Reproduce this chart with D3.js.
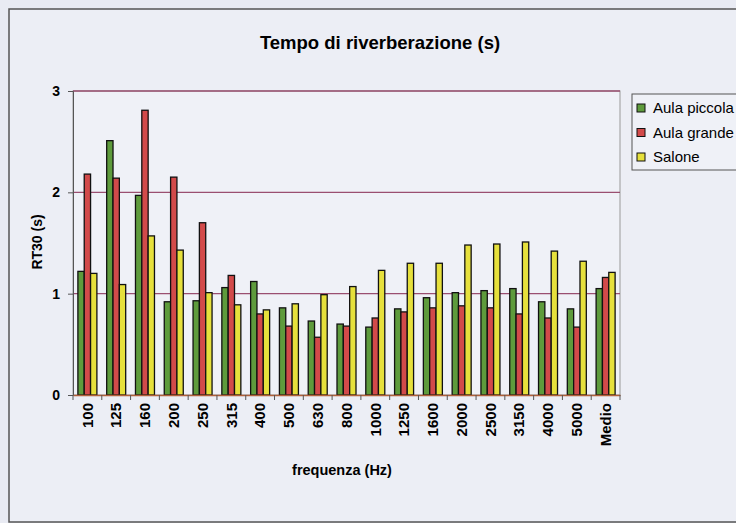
<!DOCTYPE html>
<html>
<head>
<meta charset="utf-8">
<script src="https://cdn.jsdelivr.net/npm/d3@7"></script>
<style>
  body { margin: 0; background: #e9ebf3; }
  text { font-family: "Liberation Sans", Arial, sans-serif; }
</style>
</head>
<body>
<svg id="vis" width="736" height="523"></svg>
<script>
// frequency bands + mean
var categories = ["100","125","160","200","250","315","400","500","630","800","1000","1250","1600","2000","2500","3150","4000","5000","Medio"];
var seriesNames = ["Aula piccola","Aula grande","Salone"];
var aulaPiccola = [1.22,2.51,1.97,0.92,0.93,1.06,1.12,0.86,0.73,0.70,0.67,0.85,0.96,1.01,1.03,1.05,0.92,0.85,1.05];
var aulaGrande  = [2.18,2.14,2.81,2.15,1.70,1.18,0.80,0.68,0.57,0.68,0.76,0.82,0.86,0.88,0.86,0.80,0.76,0.67,1.16];
var salone      = [1.20,1.09,1.57,1.43,1.01,0.89,0.84,0.90,0.99,1.07,1.23,1.30,1.30,1.48,1.49,1.51,1.42,1.32,1.21];
var yTicks = [0,1,2,3];
var colors = ["#5e9b3c","#d24a4a","#e6e03c"];

var svg = d3.select("#vis");
var plotL = 73, plotR = 620, plotT = 91, plotB = 395;

// outer chart frame
svg.append("rect").attr("x",9).attr("y",9).attr("width",740).attr("height",513)
   .attr("fill","#eceef5").attr("stroke","#555").attr("stroke-width",1.5);

svg.append("text").attr("x",380).attr("y",49).attr("text-anchor","middle")
   .style("font-size","18.5px").style("font-weight","bold").text("Tempo di riverberazione (s)");

var x = d3.scaleBand().domain(categories).range([plotL,plotR]);
var y = d3.scaleLinear().domain([0,3]).range([plotB,plotT]);
var inner = x.bandwidth()*0.66;
var xs = d3.scaleBand().domain(seriesNames).range([0,inner]);

// plot area
svg.append("rect").attr("x",plotL).attr("y",plotT).attr("width",plotR-plotL).attr("height",plotB-plotT)
   .attr("fill","#eff1f7").attr("stroke","#999").attr("stroke-width",1);

// gridlines
svg.append("g").selectAll("line").data(yTicks.filter(function(d){return d>0;}))
   .enter().append("line")
   .attr("x1",plotL).attr("x2",plotR)
   .attr("y1",function(d){return y(d);}).attr("y2",function(d){return y(d);})
   .attr("stroke","#9a4f70").attr("stroke-width",1.3);

// bars
var data = [aulaPiccola,aulaGrande,salone];
var bars = svg.append("g");
data.forEach(function(vals,si){
  bars.selectAll(".s"+si).data(vals).enter().append("rect")
    .attr("class","s"+si)
    .attr("x",function(d,i){return x(categories[i]) + (x.bandwidth()-inner)/2 + xs(seriesNames[si]);})
    .attr("y",function(d){return y(d);})
    .attr("width",xs.bandwidth())
    .attr("height",function(d){return plotB - y(d);})
    .attr("fill",colors[si]).attr("stroke","#111").attr("stroke-width",1.3);
});

// y axis
var ya = svg.append("g").attr("transform","translate("+plotL+",0)")
   .call(d3.axisLeft(y).tickValues(yTicks).tickFormat(d3.format("d")).tickSize(5).tickPadding(8));
ya.select(".domain").attr("stroke","#555");
ya.selectAll(".tick line").attr("stroke","#555");
ya.selectAll("text").style("font-size","14px").style("font-weight","bold").attr("fill","#000")
  .style("font-family","Liberation Sans, Arial, sans-serif");

// x axis
var xa = svg.append("g").attr("transform","translate(0,"+plotB+")")
   .call(d3.axisBottom(x).tickSize(0).tickPadding(0));
xa.select(".domain").attr("stroke","#b0603a").attr("stroke-width",1.3);
xa.selectAll(".tick text")
  .attr("transform","rotate(-90)")
  .attr("x",-8).attr("y",0).attr("dy","0.35em")
  .style("text-anchor","end").style("font-size","15px").style("font-weight","bold")
  .style("font-family","Liberation Sans, Arial, sans-serif").attr("fill","#000");
// tick marks at category boundaries
svg.append("g").selectAll("line").data(categories.concat(["end"]))
   .enter().append("line")
   .attr("x1",function(d,i){return plotL + i*x.step();})
   .attr("x2",function(d,i){return plotL + i*x.step();})
   .attr("y1",plotB).attr("y2",plotB+5)
   .attr("stroke","#555");

svg.append("text").attr("x",342).attr("y",475).attr("text-anchor","middle")
   .style("font-size","14.5px").style("font-weight","bold").text("frequenza (Hz)");
svg.append("text").attr("transform","translate(42,242) rotate(-90)").attr("text-anchor","middle")
   .style("font-size","14px").style("font-weight","bold").text("RT30 (s)");

// legend
var lg = svg.append("g").attr("transform","translate(632,94)");
lg.append("rect").attr("width",120).attr("height",76).attr("fill","#eff1f7").attr("stroke","#555");
seriesNames.forEach(function(n,i){
  var row = lg.append("g").attr("transform","translate(0,"+(14+i*24.5)+")");
  row.append("rect").attr("x",5).attr("y",-4).attr("width",8).attr("height",8)
     .attr("fill",colors[i]).attr("stroke","#111");
  row.append("text").attr("x",21).attr("y",0).attr("dy","0.35em")
     .style("font-size","15px").text(n);
});
</script>
</body>
</html>
